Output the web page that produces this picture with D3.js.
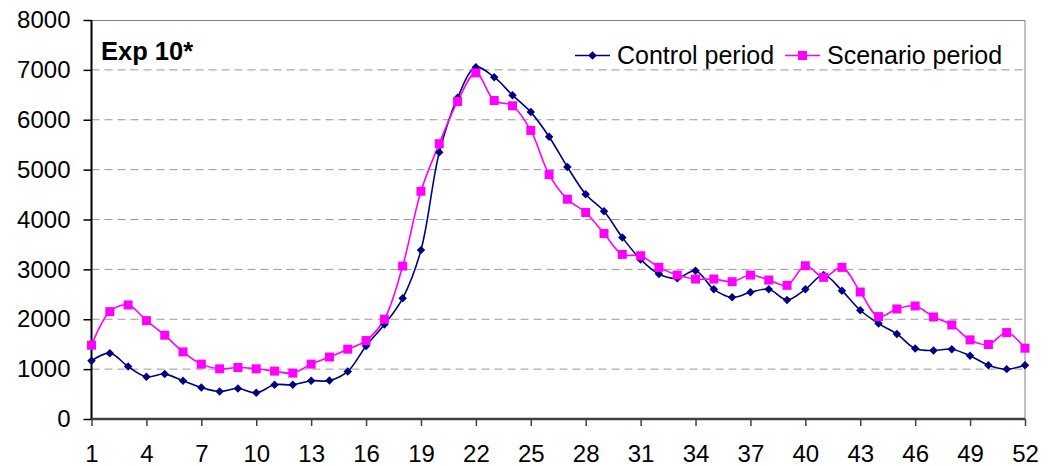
<!DOCTYPE html>
<html>
<head>
<meta charset="utf-8">
<script src="https://cdn.jsdelivr.net/npm/d3@7"></script>
<style>
  body { margin: 0; background: #fff; }
  svg { display: block; font-family: "Liberation Sans", Arial, sans-serif; }
</style>
</head>
<body>
<div id="chart"></div>
<script>
// weekly values
var weeks = d3.range(1, 53);
var control = [1166, 1320, 1053, 846, 900, 766, 633, 553, 613, 526,
  686, 686, 766, 770, 953, 1466, 1893, 2420, 3386, 5346,
  6440, 7053, 6853, 6493, 6153, 5660, 5053, 4506, 4166, 3640,
  3200, 2906, 2820, 2973, 2600, 2440, 2540, 2600, 2386, 2600,
  2886, 2573, 2180, 1913, 1706, 1413, 1373, 1400, 1266, 1080,
  1000, 1080];
var scenario = [1480, 2153, 2287, 1973, 1680, 1346, 1100, 1006, 1033, 1006,
  960, 920, 1100, 1243, 1400, 1573, 2000, 3066, 4566, 5520,
  6366, 6940, 6386, 6280, 5786, 4900, 4406, 4140, 3720, 3300,
  3273, 3040, 2886, 2806, 2806, 2753, 2886, 2786, 2680, 3073,
  2840, 3040, 2546, 2053, 2206, 2266, 2046, 1886, 1586, 1493,
  1733, 1420];
var yTicks = [0, 1000, 2000, 3000, 4000, 5000, 6000, 7000, 8000];
var xTicks = [1, 4, 7, 10, 13, 16, 19, 22, 25, 28, 31, 34, 37, 40, 43, 46, 49, 52];

var width = 1051, height = 466;
var margin = {top: 20, right: 26, bottom: 47, left: 91.5};
var iw = width - margin.left - margin.right;
var ih = height - margin.top - margin.bottom;

var svg = d3.select("#chart").append("svg")
    .attr("width", width)
    .attr("height", height);

var g = svg.append("g")
    .attr("transform", "translate(" + margin.left + "," + margin.top + ")");

var x = d3.scaleLinear().domain([1, 52]).range([0, iw]);
var y = d3.scaleLinear().domain([0, 8000]).range([ih, 0]);

// gridlines
g.selectAll(".grid")
    .data(yTicks.filter(function (d) { return d > 0 && d < 8000; }))
    .enter().append("line")
    .attr("x1", 0).attr("x2", iw)
    .attr("y1", function (d) { return y(d); })
    .attr("y2", function (d) { return y(d); })
    .attr("stroke", "#999")
    .attr("stroke-width", 1)
    .attr("stroke-dasharray", "8,5");

// plot area border (top, right)
g.append("path")
    .attr("d", "M0,0.5H" + iw + "V" + ih)
    .attr("fill", "none")
    .attr("stroke", "#808080")
    .attr("stroke-width", 1);

// y axis
var yAxis = g.append("g")
    .call(d3.axisLeft(y).tickValues(yTicks).tickFormat(d3.format("d")).tickSize(8).tickPadding(13));
yAxis.select(".domain").attr("stroke", "#000").attr("stroke-width", 2).attr("d", "M0,0V" + ih);
yAxis.selectAll(".tick line").attr("stroke", "#000").attr("stroke-width", 1.5);
yAxis.selectAll("text").attr("font-size", 24).attr("fill", "#000")
    .attr("font-family", "'Liberation Sans', Arial, sans-serif");

// x axis
var xAxis = g.append("g")
    .attr("transform", "translate(0," + ih + ")")
    .call(d3.axisBottom(x).tickValues(xTicks).tickSize(7).tickPadding(19));
xAxis.select(".domain").attr("stroke", "#404040").attr("stroke-width", 2.5).attr("d", "M0,0H" + iw);
xAxis.selectAll(".tick line").attr("stroke", "#404040").attr("stroke-width", 1.5);
xAxis.selectAll("text").attr("font-size", 24).attr("fill", "#000")
    .attr("font-family", "'Liberation Sans', Arial, sans-serif");

var line = d3.line()
    .x(function (d, i) { return x(weeks[i]); })
    .y(function (d) { return y(d); })
    .curve(d3.curveCatmullRom);

g.append("path").datum(control)
    .attr("d", line).attr("fill", "none")
    .attr("stroke", "#000080").attr("stroke-width", 1.6);
g.append("path").datum(scenario)
    .attr("d", line).attr("fill", "none")
    .attr("stroke", "#FF00FF").attr("stroke-width", 1.6);

var diamond = d3.symbol().type(d3.symbolDiamond2).size(46);

g.selectAll(".ctl")
    .data(control).enter().append("path")
    .attr("d", diamond)
    .attr("transform", function (d, i) { return "translate(" + x(weeks[i]) + "," + y(d) + ")"; })
    .attr("fill", "#000080");

g.selectAll(".scn")
    .data(scenario).enter().append("rect")
    .attr("x", function (d, i) { return x(weeks[i]) - 4.5; })
    .attr("y", function (d) { return y(d) - 4.5; })
    .attr("width", 9).attr("height", 9)
    .attr("fill", "#FF00FF");

// title
svg.append("text")
    .attr("x", 101).attr("y", 60)
    .attr("font-size", 25.5).attr("font-weight", "bold")
    .text("Exp 10*");

// legend
var legend = [
  {name: "Control period", color: "#000080", type: "diamond", lx: 575, tx: 617},
  {name: "Scenario period", color: "#FF00FF", type: "square", lx: 785, tx: 827}
];
var ly = 55.5;
legend.forEach(function (l) {
  svg.append("line")
      .attr("x1", l.lx).attr("x2", l.lx + 35)
      .attr("y1", ly).attr("y2", ly)
      .attr("stroke", l.color).attr("stroke-width", 1.6);
  if (l.type == "diamond") {
    svg.append("path").attr("d", diamond)
        .attr("transform", "translate(" + (l.lx + 17.5) + "," + ly + ")")
        .attr("fill", l.color);
  } else {
    svg.append("rect")
        .attr("x", l.lx + 13).attr("y", ly - 4.5)
        .attr("width", 9).attr("height", 9)
        .attr("fill", l.color);
  }
  svg.append("text")
      .attr("x", l.tx).attr("y", ly + 8.5)
      .attr("font-size", 25)
      .text(l.name);
});
</script>
</body>
</html>
